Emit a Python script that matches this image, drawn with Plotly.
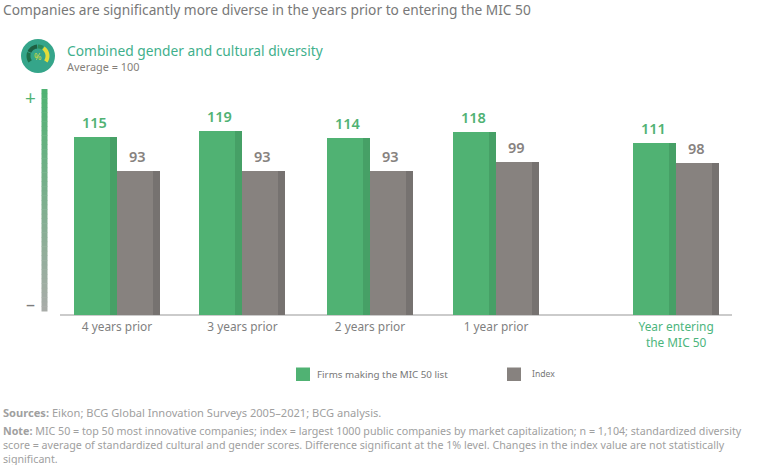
import math
import plotly.graph_objects as go

categories = ["4 years prior", "3 years prior", "2 years prior", "1 year prior",
              "Year entering<br>the MIC 50"]
slots = [0, 0.992, 2.0, 2.996, 4.42]
firms = [115, 119, 114, 118, 111]
index = [93, 93, 93, 99, 98]
series_names = ["Firms making the MIC 50 list", "Index"]

GREEN, GREEN_D = "#50b273", "#46a066"
GREY, GREY_D = "#87827f", "#767270"
TXT = "#7f7f7f"
FONT = "Noto Sans"
W, H = 764, 465
PX_X = 126.5
BASE_Y = 315
PX_Y = 1.55


def ux(px):
    return px / PX_X


BAR = ux(43)
STRIP = ux(7)

fig = go.Figure()
for vals, col, dark, off in [(firms, GREEN, GREEN_D, -BAR), (index, GREY, GREY_D, 0)]:
    fig.add_bar(x=slots, y=vals, width=BAR, offset=off, marker=dict(color=col, line_width=0))
    fig.add_bar(x=slots, y=vals, width=STRIP, offset=off + BAR - STRIP,
                marker=dict(color=dark, line_width=0))

ann = []
for x, a, b in zip(slots, firms, index):
    ann.append(dict(x=x - BAR / 2 - ux(1), y=a, text=str(a), xref="x", yref="y", showarrow=False, yanchor="bottom",
                    yshift=3, font=dict(family=FONT, size=14.5, color=GREEN, weight=600)))
    ann.append(dict(x=x + BAR / 2 - ux(1), y=b, text=str(b), xref="x", yref="y", showarrow=False, yanchor="bottom",
                    yshift=3, font=dict(family=FONT, size=14.5, color=GREY, weight=600)))


def text(x, y, s, size, color=TXT, anchor="left", **kw):
    ann.append(dict(x=x / W, y=1 - y / H, xref="paper", yref="paper", text=s, showarrow=False, xanchor=anchor,
                    yanchor="middle", align="left", font=dict(family=FONT, size=size, color=color), **kw))


text(1, 9, "Companies are significantly more diverse in the years prior to entering the MIC 50", 13.73, "#787878")
text(65, 50, "Combined gender and cultural diversity", 13.77, "#3fb08c")
text(65, 66, "Average = 100", 10.9, "#857f7a")
text(30, 98, "+", 19, GREEN, "center")
text(30, 304, "–", 18, "#7d7d7d", "center")
text(315, 374, series_names[0], 9.8, "#777777")
text(530, 374, series_names[1], 8.6, "#777777")
text(1, 412, "<b>Sources:</b> Eikon; BCG Global Innovation Surveys 2005–2021; BCG analysis.", 11.1, "#a0a0a0")
text(1, 445,
     "<b>Note:</b> MIC 50 = top 50 most innovative companies; index = largest 1000 public companies by market "
     "capitalization; n = 1,104; standardized diversity<br>"
     "score = average of standardized cultural and gender scores. Difference significant at the 1% level. "
     "Changes in the index value are not statistically<br>significant.",
     10.7, "#a0a0a0")
text(38, 57, "%", 9, "#d8dc3c", "center")


def rect(x0, y0, x1, y1, color, layer="above"):
    return dict(type="rect", xref="paper", yref="paper", x0=x0 / W, x1=x1 / W, y0=1 - y0 / H, y1=1 - y1 / H,
                fillcolor=color, line_width=0, layer=layer)


def arc(cx, cy, r0, r1, a0, a1, color):
    pts = []
    n = 10
    for i in range(n + 1):
        a = math.radians(a0 + (a1 - a0) * i / n)
        pts.append((cx + r1 * math.sin(a), cy - r1 * math.cos(a)))
    for i in range(n, -1, -1):
        a = math.radians(a0 + (a1 - a0) * i / n)
        pts.append((cx + r0 * math.sin(a), cy - r0 * math.cos(a)))
    path = "M" + "L".join(f"{x / W:.5f},{1 - y / H:.5f}" for x, y in pts) + "Z"
    return dict(type="path", xref="paper", yref="paper", path=path, fillcolor=color, line_width=0, layer="above")


shapes = [rect(60, 314, 732, 316, "#cbcbcb", "below"), rect(296, 367.5, 310, 381, GREEN),
          rect(507, 367.5, 521, 381, GREY)]
top, bot = (80, 178, 115), (168, 172, 168)
steps = 48
y0, y1 = 89, 311
for i in range(steps):
    t = i / (steps - 1)
    c = tuple(round(a + (b - a) * t) for a, b in zip(top, bot))
    shapes.append(rect(41.5, y0 + (y1 - y0) * i / steps, 47.5, y0 + (y1 - y0) * (i + 1) / steps + 0.5,
                       f"rgb{c}"))
shapes.append(dict(type="circle", xref="paper", yref="paper", x0=21 / W, x1=55 / W, y0=1 - 73 / H, y1=1 - 39 / H,
                   fillcolor="#35a58a", line_width=0, layer="above"))
shapes += [arc(38, 56, 7.5, 11.5, -125, -70, "#1f6f4a"), arc(38, 56, 7.5, 11.5, -65, -5, "#1f5f42"),
           arc(38, 56, 7.5, 11.5, 0, 30, "#2a8a58"), arc(38, 56, 7.5, 11.5, 35, 125, "#e3dc3a")]

fig.update_layout(
    width=W, height=H, margin=dict(l=0, r=0, t=0, b=0), paper_bgcolor="white", plot_bgcolor="white",
    barmode="overlay", showlegend=False, annotations=ann, shapes=shapes, bargap=0,
    xaxis=dict(domain=[0, 1], range=[-117 / PX_X, (W - 117) / PX_X], tickvals=slots,
               ticktext=categories[:-1] + [f'<span style="color:#4cb57d">{categories[-1]}</span>'],
               ticks="outside", ticklen=1, tickcolor="rgba(0,0,0,0)", showline=False, showgrid=False,
               zeroline=False, anchor="y", tickfont=dict(family=FONT, size=11.9, color=TXT)),
    yaxis=dict(domain=[(H - BASE_Y) / H, 1], range=[0, BASE_Y / PX_Y], visible=False, fixedrange=True),
)
fig.write_html("out.html", config=dict(displayModeBar=False),
               post_script="document.body.style.margin='0';document.documentElement.style.overflow='hidden';")
